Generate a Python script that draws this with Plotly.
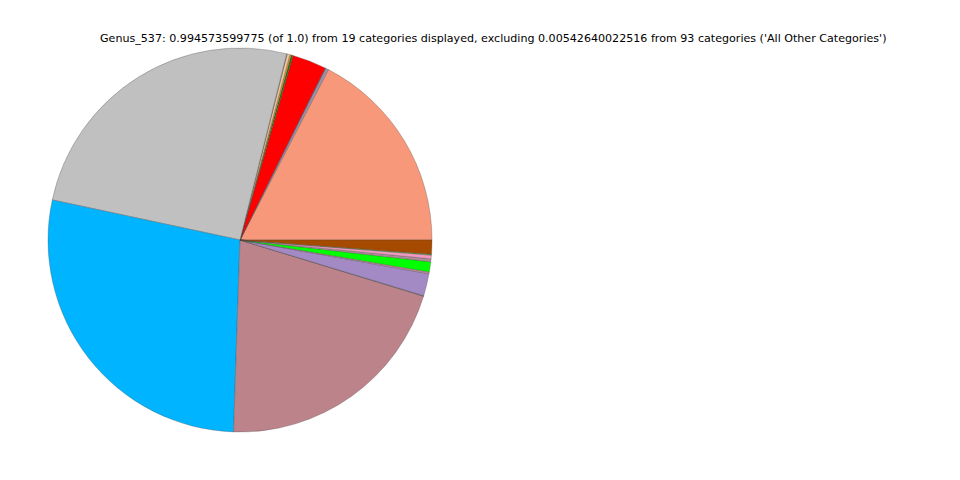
import plotly.graph_objects as go

categories = [f"Category_{i+1}" for i in range(19)]
values = [0.1728, 0.0025, 0.0005, 0.0285, 0.0015, 0.0012, 0.0022, 0.0005,
          0.2540, 0.2765, 0.2068, 0.0005, 0.0185, 0.0015, 0.0085, 0.0025,
          0.0030, 0.0008, 0.0117]
colors = ["#F8987A", "#A08FAA", "#556677", "#FF0000", "#1A7A1A", "#FF8C1A",
          "#F5C89A", "#9A9A9A", "#C0C0C0", "#00B4FF", "#BC838B", "#6B5B6B",
          "#A48AC4", "#C88A9A", "#00FF00", "#B08A98", "#F49AC2", "#66AA44",
          "#A64A00"]
title_text = ("Genus_537: 0.994573599775 (of 1.0) from 19 categories displayed, "
              "excluding 0.00542640022516 from 93 categories ('All Other Categories')")

# plotly's counterclockwise pie ends the first slice at `rotation`; start it at 3 o'clock
first_frac = values[0] / sum(values)
rot = 90 - 360 * first_frac

W, H = 960, 480
off = 8  # page body margin
fig = go.Figure(go.Pie(
    labels=categories, values=values, sort=False, direction="counterclockwise",
    rotation=rot, textinfo="none", hoverinfo="label+percent",
    marker=dict(colors=colors, line=dict(color="#444444", width=0.3)),
    domain=dict(x=[(48 - off) / W, (432 - off) / W],
                y=[1 - (432 - off) / H, 1 - (48 - off) / H]),
    showlegend=False,
))
fig.add_annotation(text=title_text, x=(493 - off) / W, y=1 - (39 - off) / H,
                   xref="paper", yref="paper",
                   showarrow=False, xanchor="center", yanchor="middle",
                   font=dict(family="DejaVu Sans", size=11.1, color="black"))
fig.update_layout(width=W, height=H, margin=dict(l=0, r=0, t=0, b=0),
                  paper_bgcolor="white", plot_bgcolor="white")
fig.write_html("out.html")
